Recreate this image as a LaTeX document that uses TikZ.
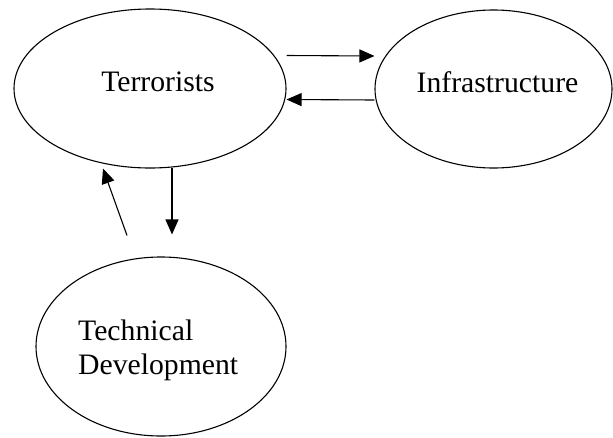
\documentclass[tikz,border=0pt]{standalone}
\usepackage{fontspec}
\setmainfont{Liberation Serif}
\usepackage{tikz}
\usetikzlibrary{arrows.meta, shapes.geometric, positioning}

\begin{document}
\begin{tikzpicture}[x=1pt, y=-1pt,
	blob/.style={ellipse, draw=black, line width=1.1pt, inner sep=0pt},
	txt/.style={inner sep=0pt, align=left, font=\fontsize{29.7}{34}\selectfont},
	conn/.style={line width=1.1pt, -{Triangle[length=15pt, width=13pt]}}]
	\useasboundingbox (0,0) rectangle (613,437);
	\node[blob, minimum width=272pt, minimum height=159pt] (terr) at (150,88.5) {};
	\node[blob, minimum width=237pt, minimum height=158pt] (infra) at (493.5,89) {};
	\node[blob, minimum width=250pt, minimum height=179pt] (tech) at (161,346.5) {};
	\node[txt, xshift=8pt, yshift=6.5pt] (terrlbl) at (terr.center) {Terrorists};
	\node[txt, xshift=4pt, yshift=7pt] (infralbl) at (infra.center) {Infrastructure};
	\node[txt, anchor=west, xshift=-83pt, yshift=-3.5pt] (techlbl) at (tech.center) {Technical\\Development};
	\draw[conn] ([yshift=33pt]terr.east) -- ([yshift=33pt]infra.west);
	\draw[conn] ([yshift=-11pt]infra.west) -- ([yshift=-11pt]terr.east);
	\draw[conn] ([xshift=22pt, yshift=1pt]terr.south) -- ([xshift=11pt, yshift=22pt]tech.north);
	\draw[conn] ([xshift=-34pt, yshift=21pt]tech.north) -- ([xshift=-47pt]terr.south);
\end{tikzpicture}
\end{document}
